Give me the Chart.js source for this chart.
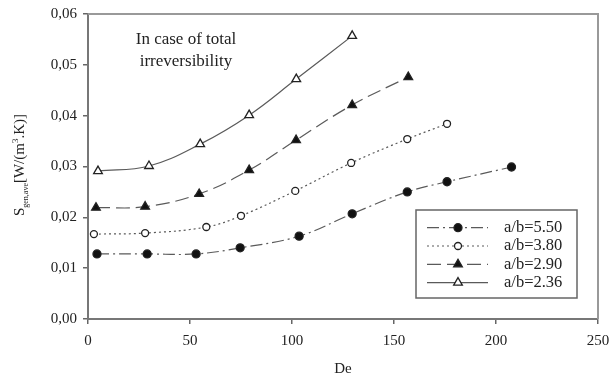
<!DOCTYPE html>
<html>
<head>
<meta charset="utf-8">
<script src="https://cdn.jsdelivr.net/npm/chart.js@4"></script>
<style>
  html, body { margin: 0; padding: 0; background: #fff; }
  #wrap { width: 611px; height: 378px; }
</style>
</head>
<body>
<div id="wrap"><canvas id="chart" width="611" height="378"></canvas></div>
<script>
// values
const seriesLabels = ['a/b=5.50', 'a/b=3.80', 'a/b=2.90', 'a/b=2.36'];

const deA = [4.4, 29, 53, 74.6, 103.5, 129.5, 156.5, 176, 207.6];
const sA = [0.0128, 0.0128, 0.0128, 0.0140, 0.0163, 0.0207, 0.0250, 0.0270, 0.0299];

const deB = [2.9, 28, 58, 75, 101.6, 129, 156.5, 176];
const sB = [0.0167, 0.0169, 0.0181, 0.0203, 0.0252, 0.0307, 0.0354, 0.0384];

const deC = [3.9, 28, 54.5, 79, 102, 129.5, 157];
const sC = [0.0219, 0.0221, 0.0246, 0.0293, 0.0352, 0.0421, 0.0476];

const deD = [4.9, 29.9, 55, 79, 102.1, 129.5];
const sD = [0.0291, 0.0301, 0.0344, 0.0401, 0.0472, 0.0557];

const xTicks = [0, 50, 100, 150, 200, 250];
const yTicks = [0, 0.01, 0.02, 0.03, 0.04, 0.05, 0.06];

const FONT = '"Liberation Serif", "DejaVu Serif", serif';

function pts(xs, ys) {
    return xs.map((x, i) => ({ x: x, y: ys[i] }));
}

function makeSet(label, xs, ys, style, filled, radius, dash) {
    return {
        label: label,
        data: pts(xs, ys),
        borderColor: '#5a5a5a',
        borderWidth: 1.2,
        borderDash: dash,
        tension: 0.4,
        pointStyle: style,
        pointRadius: radius,
        pointBorderWidth: 1.3,
        pointBorderColor: '#222',
        pointBackgroundColor: filled ? '#111' : '#fff',
        fill: false
    };
}

// frame, note text, y title and the boxed legend
const extras = {
    id: 'extras',
    afterDraw(chart) {
        const ctx = chart.ctx;
        const a = chart.chartArea;
        ctx.save();

        // top / right frame
        ctx.strokeStyle = '#999';
        ctx.lineWidth = 2;
        ctx.beginPath();
        ctx.moveTo(a.left, a.top);
        ctx.lineTo(a.right, a.top);
        ctx.lineTo(a.right, a.bottom);
        ctx.stroke();

        // note
        ctx.fillStyle = '#222';
        ctx.font = '17px ' + FONT;
        ctx.textAlign = 'center';
        ctx.textBaseline = 'middle';
        ctx.fillText('In case of total', 186, 40);
        ctx.fillText('irreversibility', 186, 62);

        // y axis title with sub / superscript
        ctx.save();
        ctx.translate(19, 165);
        ctx.rotate(-Math.PI / 2);
        const parts = [
            { t: 'S', size: 15, dy: 0 },
            { t: 'gen,ave', size: 8, dy: 4 },
            { t: '[W/(m', size: 15, dy: 0 },
            { t: '3', size: 9, dy: -6 },
            { t: '.K)]', size: 15, dy: 0 }
        ];
        let total = 0;
        parts.forEach(p => {
            ctx.font = p.size + 'px ' + FONT;
            p.w = ctx.measureText(p.t).width;
            total += p.w;
        });
        let cx = -total / 2;
        ctx.textAlign = 'left';
        ctx.textBaseline = 'alphabetic';
        parts.forEach(p => {
            ctx.font = p.size + 'px ' + FONT;
            ctx.fillText(p.t, cx, 5 + p.dy);
            cx += p.w;
        });
        ctx.restore();

        // legend box
        const bx = 416, by = 210, bw = 161, bh = 88;
        ctx.fillStyle = '#fff';
        ctx.fillRect(bx, by, bw, bh);
        ctx.strokeStyle = '#666';
        ctx.lineWidth = 1.5;
        ctx.strokeRect(bx, by, bw, bh);

        chart.data.datasets.forEach((ds, i) => {
            const y = 227.7 + i * 18.3;
            ctx.strokeStyle = ds.borderColor;
            ctx.lineWidth = ds.borderWidth;
            ctx.setLineDash(ds.borderDash || []);
            ctx.beginPath();
            ctx.moveTo(427, y);
            ctx.lineTo(488, y);
            ctx.stroke();
            ctx.setLineDash([]);
            ctx.fillStyle = ds.pointBackgroundColor;
            ctx.strokeStyle = ds.pointBorderColor;
            ctx.lineWidth = ds.pointBorderWidth;
            Chart.helpers.drawPoint(ctx, {
                pointStyle: ds.pointStyle,
                radius: ds.pointRadius,
                rotation: 0,
                borderWidth: ds.pointBorderWidth
            }, 458, y);
            ctx.fillStyle = '#222';
            ctx.font = '16.5px ' + FONT;
            ctx.textAlign = 'left';
            ctx.textBaseline = 'middle';
            ctx.fillText(ds.label, 504, y);
        });

        ctx.restore();
    }
};

const ctx = document.getElementById('chart').getContext('2d');
new Chart(ctx, {
    type: 'line',
    data: {
        datasets: [
            makeSet(seriesLabels[0], deA, sA, 'circle', true, 4, [12, 4, 2, 4]),
            makeSet(seriesLabels[1], deB, sB, 'circle', false, 3.5, [2, 3]),
            makeSet(seriesLabels[2], deC, sC, 'triangle', true, 5, [14, 6]),
            makeSet(seriesLabels[3], deD, sD, 'triangle', false, 5, [])
        ]
    },
    options: {
        responsive: false,
        animation: false,
        layout: { padding: { top: 14, right: 13, left: 0, bottom: 0 } },
        plugins: {
            legend: { display: false },
            tooltip: { enabled: false }
        },
        scales: {
            x: {
                type: 'linear',
                min: 0,
                max: 250,
                afterBuildTicks: s => { s.ticks = xTicks.map(v => ({ value: v })); },
                afterFit: s => { s.height = 59; s.paddingRight = 0; s.paddingLeft = 0; },
                grid: { drawOnChartArea: false, tickLength: 5, color: '#666', lineWidth: 1.5 },
                border: { color: '#777', width: 2 },
                ticks: {
                    color: '#222',
                    padding: 8,
                    font: { family: FONT, size: 15 },
                    callback: v => String(v)
                },
                title: {
                    display: true,
                    text: 'De',
                    color: '#222',
                    font: { family: FONT, size: 15 },
                    padding: { top: 4, bottom: 0 }
                }
            },
            y: {
                type: 'linear',
                min: 0,
                max: 0.06,
                afterBuildTicks: s => { s.ticks = yTicks.map(v => ({ value: v })); },
                afterFit: s => { s.width = 88; s.paddingTop = 0; s.paddingBottom = 0; },
                grid: { drawOnChartArea: false, tickLength: 5, color: '#666', lineWidth: 1.5 },
                border: { color: '#777', width: 2 },
                ticks: {
                    color: '#222',
                    padding: 6,
                    font: { family: FONT, size: 15 },
                    callback: v => v.toFixed(2).replace('.', ',')
                }
            }
        }
    },
    plugins: [extras]
});
</script>
</body>
</html>
